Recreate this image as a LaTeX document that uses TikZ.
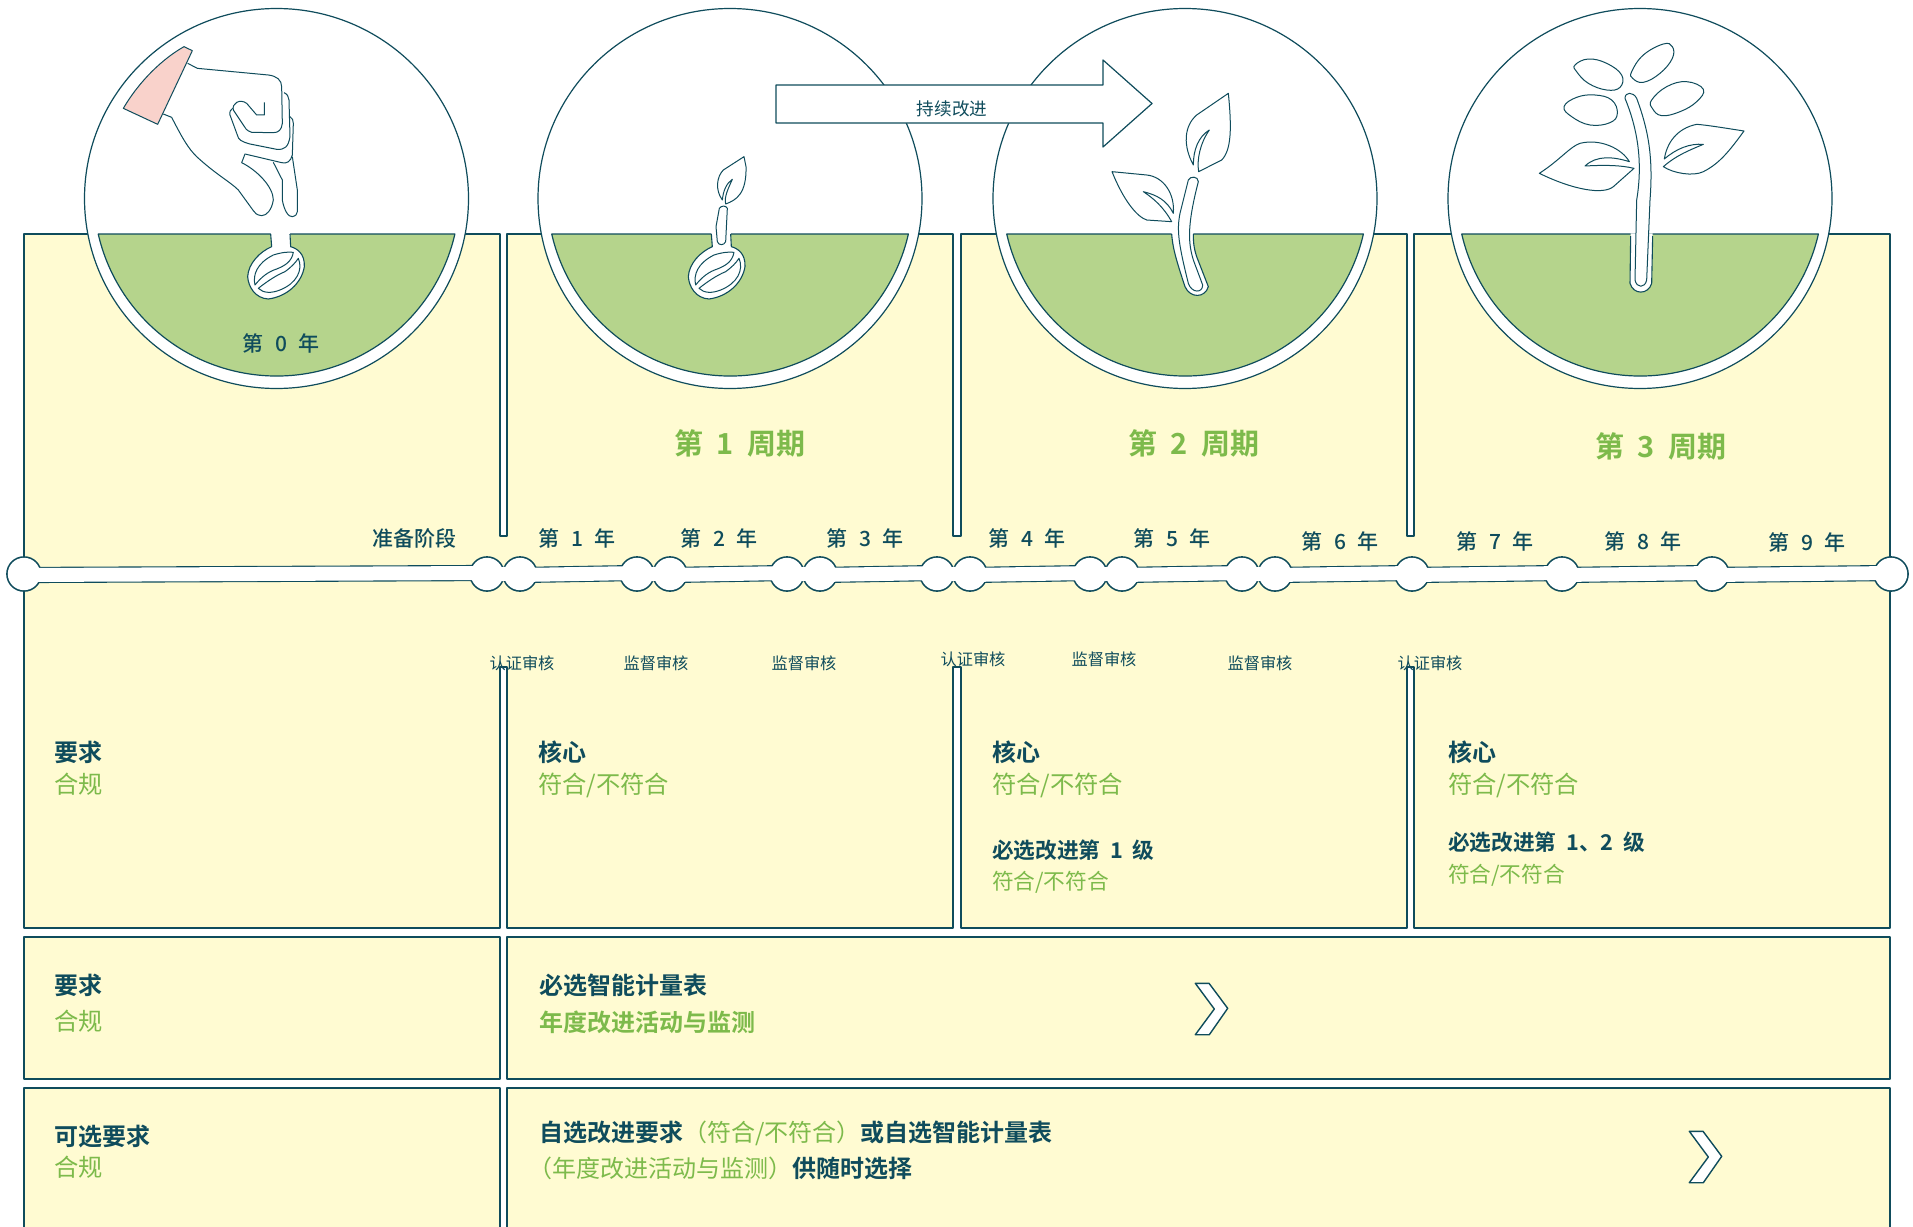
\documentclass[tikz,border=0pt]{standalone}
\usepackage{fontspec}
\setmainfont[BoldFont={Noto Sans CJK SC Bold}]{Noto Sans CJK SC}
\newfontfamily\medcjk{Noto Sans CJK SC Medium}
\definecolor{ink}{HTML}{0F4C5C}
\definecolor{leaf}{HTML}{7DBA4B}
\definecolor{soil}{HTML}{B5D48C}
\definecolor{paper}{HTML}{FFFBD2}
\definecolor{cuff}{HTML}{F9D2CB}
\newcommand{\fs}[1]{\fontsize{#1}{#1}\selectfont}
\newcommand{\yr}[1]{第\hspace{.55em}#1\hspace{.55em}年}
\newcommand{\zyq}[1]{第\hspace{.45em}#1\hspace{.45em}周期}
\tikzset{
  ln/.style={draw=ink,line width=1.2pt,line join=round},
  panel/.style={ln,fill=paper},
  disc/.style={ln,fill=white},
  art/.style={draw=ink,line width=1pt,fill=white,line join=round},
  txt/.style={inner sep=0pt,outer sep=0pt,anchor=base west,text=ink},
  ctr/.style={inner sep=0pt,outer sep=0pt,anchor=base,text=ink},
  hb/.style={txt,font=\fs{24}\bfseries},
  gr/.style={txt,font=\fs{24.3},text=leaf},
  hs/.style={txt,font=\fs{21.7}\bfseries},
  gs/.style={txt,font=\fs{21.7},text=leaf},
  yrs/.style={ctr,font=\medcjk\fs{21}},
  aud/.style={ctr,font=\fs{16.2}},
  cyc/.style={ctr,font=\fs{29}\bfseries,text=leaf},
  zoomed/.style={x=0.33333pt,y=-0.33333pt},
  tlnode/.style={circle,minimum size=33.5pt,inner sep=0pt,draw=ink,line width=2.2pt,fill=white}
}
\newcommand{\ground}[1]{% centre x of the disc
  \path[ln,fill=soil] (#1-178.4,234) -- (#1+178.4,234) arc[start angle=12.95,end angle=167.05,radius=183] -- cycle;
}
\newcommand{\bean}{%
  \fill[white] (632,695) -- (635,740) -- (692,740) -- (690,695) -- cycle;
  \path[fill=white,draw=ink,line width=1.1pt] (632,702) -- (635,740) .. controls (600,755) and (565,790) .. (563,830)
    .. controls (565,860) and (585,895) .. (625,897) .. controls (680,890) and (725,850) .. (733,800)
    .. controls (735,760) and (710,745) .. (692,740) -- (690,702);
  \draw[art] (585,855) .. controls (578,825) and (590,790) .. (640,765) .. controls (665,757) and (685,755) .. (700,757)
    .. controls (695,785) and (675,797) .. (650,807) .. controls (625,815) and (605,830) .. (585,855) -- cycle;
  \draw[art] (715,775) .. controls (730,810) and (710,850) .. (660,870) .. controls (635,880) and (610,880) .. (595,865)
    .. controls (620,845) and (650,825) .. (675,815) .. controls (695,800) and (705,790) .. (715,775) -- cycle;
}
\begin{document}
\begin{tikzpicture}[x=1pt,y=-1pt]
\useasboundingbox (0,0) rectangle (1913,1226);
\fill[white] (0,0) rectangle (1913,1226);
% panels
\path[panel] (24,234) -- (500,234) -- (500,536) -- (507,536) -- (507,234) -- (953,234) -- (953,536) -- (961,536) -- (961,234)
  -- (1407,234) -- (1407,536) -- (1414,536) -- (1414,234) -- (1890,234) -- (1890,928) -- (1414,928) -- (1414,667) -- (1407,667)
  -- (1407,928) -- (961,928) -- (961,667) -- (953,667) -- (953,928) -- (507,928) -- (507,667) -- (500,667) -- (500,928) -- (24,928) -- cycle;
\path[panel] (24,937) rectangle (500,1079);
\path[panel] (507,937) rectangle (1890,1079);
\path[panel] (24,1088) -- (500,1088) -- (500,1232) -- (24,1232) -- cycle;
\path[panel] (507,1088) -- (1890,1088) -- (1890,1232) -- (507,1232) -- cycle;
% chevrons
\draw[art,line width=1.4pt] (1195.3,983.3) -- (1209,983.3) -- (1227.7,1008.3) -- (1209.3,1034.7) -- (1195.3,1034.7) -- (1214.3,1009) -- cycle;
\begin{scope}[shift={(494,148)}]
\draw[art,line width=1.4pt] (1195.3,983.3) -- (1209,983.3) -- (1227.7,1008.3) -- (1209.3,1034.7) -- (1195.3,1034.7) -- (1214.3,1009) -- cycle;
\end{scope}
% discs
\foreach \c in {276.5,730,1185,1640}{
  \draw[disc] (\c,198.5) ellipse[x radius=192,y radius=190];
  \ground{\c}
}
% hand and seed
\begin{scope}[shift={(60,0)},zoomed]
\bean
\draw[art,fill=cuff] (190,325) .. controls (240,240) and (310,175) .. (372,140) -- (397,152) -- (293,373) -- cycle;
\draw[art,fill=none] (383,190) -- (412,205) -- (625,225) .. controls (650,228) and (665,240) .. (665,260) -- (667,370)
  .. controls (665,390) and (655,398) .. (640,398) -- (575,397) .. controls (560,392) and (555,385) .. (550,375) -- (520,330)
  .. controls (515,310) and (540,295) .. (560,310) -- (590,345) -- (613,345) -- (613,307);
\draw[art,fill=none] (672,278) .. controls (682,282) and (686,290) .. (687,300) -- (690,410) .. controls (685,440) and (675,450) .. (650,448)
  -- (570,432) .. controls (545,425) and (535,420) .. (532,405) -- (510,345) .. controls (508,335) and (512,328) .. (518,325);
\draw[art,fill=none] (690,350) .. controls (697,355) and (700,360) .. (700,370) -- (697,465) .. controls (692,485) and (680,492) .. (665,488)
  -- (555,462) -- (545,488) .. controls (590,510) and (640,560) .. (640,600) .. controls (635,630) and (620,647) .. (605,647)
  .. controls (590,645) and (585,640) .. (580,632) -- (535,570) .. controls (510,545) and (470,525) .. (410,470)
  .. controls (385,445) and (370,420) .. (335,352) -- (310,342);
\draw[art,fill=none] (640,487) -- (667,540) -- (667,600) .. controls (672,630) and (685,652) .. (697,650) .. controls (707,648) and (712,642) .. (712,635)
  -- (712,570) -- (697,470);
\end{scope}
% sprout
\begin{scope}[shift={(520,0)},zoomed]
\begin{scope}[shift={(-58,0)}]\bean\end{scope}
\draw[art] (598,625) .. controls (604,616) and (618,616) .. (622,625) -- (617,725) .. controls (612,737) and (596,737) .. (592,725)
  -- (588,680) -- cycle;
\draw[art] (672,470) -- (610,510) .. controls (590,530) and (585,570) .. (607,600) .. controls (610,570) and (620,550) .. (637,538)
  .. controls (625,565) and (612,590) .. (617,612) .. controls (650,600) and (680,580) .. (678,500) -- cycle;
\end{scope}
% seedling
\begin{scope}[shift={(980,0)},zoomed]
\fill[white] (575,695) -- (575,702) .. controls (578,740) and (585,770) .. (615,860) .. controls (630,895) and (675,895) .. (685,860)
  -- (650,770) .. controls (640,740) and (640,720) .. (640,695) -- cycle;
\draw[ln,line width=1.1pt] (575,702) .. controls (578,740) and (585,770) .. (615,860) .. controls (630,895) and (675,895) .. (685,860)
  -- (650,770) .. controls (640,740) and (640,720) .. (640,702);
\draw[art] (625,540) -- (600,640) .. controls (590,690) and (595,730) .. (625,850) .. controls (635,880) and (668,880) .. (668,855)
  -- (640,780) .. controls (625,730) and (620,680) .. (655,545) .. controls (655,528) and (630,528) .. (625,540) -- cycle;
\draw[art] (745,280) -- (650,345) .. controls (610,380) and (610,440) .. (640,495) .. controls (640,450) and (655,410) .. (688,390)
  .. controls (660,430) and (650,480) .. (656,515) -- (725,480) .. controls (755,450) and (755,380) .. cycle;
\draw[art] (396,515) .. controls (430,600) and (470,650) .. (500,660) -- (575,665) .. controls (550,620) and (520,595) .. (490,575)
  .. controls (530,585) and (560,600) .. (580,640) .. controls (585,580) and (550,530) .. (500,525) -- cycle;
\end{scope}
% plant
\begin{scope}[shift={(1440,0)},zoomed]
\fill[white] (572,700) -- (570,850) .. controls (580,885) and (625,885) .. (635,850) -- (638,700) -- cycle;
\draw[ln,line width=1.1pt] (572,708) -- (570,850) .. controls (580,885) and (625,885) .. (635,850) -- (638,708);
\draw[art] (555,295) .. controls (555,275) and (580,275) .. (590,295) .. controls (625,390) and (640,470) .. (630,600) -- (620,840)
  .. controls (615,865) and (590,865) .. (585,840) -- (590,600) .. controls (610,480) and (590,380) .. cycle;
\draw[art] plot[smooth cycle,tension=.7] coordinates {(405,195) (445,177) (500,190) (545,225) (540,262) (500,270) (445,250) (410,215)};
\draw[art] plot[smooth cycle,tension=.7] coordinates {(575,215) (610,165) (670,132) (697,140) (697,175) (660,220) (610,247) (578,235)};
\draw[art] plot[smooth cycle,tension=.7] coordinates {(635,300) (680,260) (740,245) (790,268) (770,305) (720,335) (665,347) (637,325)};
\draw[art] plot[smooth cycle,tension=.7] coordinates {(372,320) (410,292) (465,285) (515,300) (532,340) (510,368) (450,375) (395,350)};
\draw[art] (298,520) .. controls (360,480) and (390,440) .. (420,430) .. controls (480,415) and (545,445) .. (568,485)
  .. controls (520,470) and (470,465) .. (435,498) .. controls (490,495) and (540,495) .. (582,505) -- (520,560)
  .. controls (490,585) and (400,570) .. cycle;
\draw[art] (912,393) .. controls (860,385) and (800,375) .. (770,373) .. controls (710,385) and (680,430) .. (673,477)
  .. controls (710,445) and (750,430) .. (790,433) .. controls (750,450) and (710,465) .. (670,500)
  .. controls (700,520) and (760,530) .. (790,515) .. controls (840,490) and (870,450) .. cycle;
\end{scope}
% improvement arrow
\path[disc] (776,85) -- (1103,85) -- (1103,60) -- (1152,103.5) -- (1103,147) -- (1103,123) -- (776,123) -- cycle;
\node[ctr,font=\fs{17.6}] (improve) at (952,115) {持续改进};
% timeline
\foreach \a/\b in {24/487,520/637,670/787,820/937,970/1090,1122/1242,1275/1412,1412/1562,1562/1712,1712/1891}{
  \path[draw=ink,line width=2.2pt,line join=round] (\a,568) -- (\b,566) -- (\b,580) -- (\a,582) -- cycle;
}
\foreach \i/\x in {1/24,2/487,3/520,4/637,5/670,6/787,7/820,8/937,9/970,10/1090,11/1122,12/1242,13/1275,14/1412,15/1562,16/1712,17/1891}{
  \node[tlnode] (t\i) at (\x,574) {};
}
\foreach \a/\b in {24/487,487/520,520/637,637/670,670/787,787/820,820/937,937/970,970/1090,1090/1122,1122/1242,1242/1275,1275/1412,1412/1562,1562/1712,1712/1891}{
  \fill[white] (\a,568) -- (\b,566) -- (\b,580) -- (\a,582) -- cycle;
}
\foreach \x in {24,487,520,637,670,787,820,937,970,1090,1122,1242,1275,1412,1562,1712,1891}{
  \fill[white] (\x,574) circle[radius=16.2];
}
% year labels
\node[yrs] (y0) at (281,351) {\yr{0}};
\node[yrs] (prep) at (414,546) {准备阶段};
\node[yrs] (y1) at (577,546) {\yr{1}};
\node[yrs] (y2) at (719,546) {\yr{2}};
\node[yrs] (y3) at (865,546) {\yr{3}};
\node[yrs] (y4) at (1027,546) {\yr{4}};
\node[yrs] (y5) at (1172,546) {\yr{5}};
\node[yrs] (y6) at (1340,549) {\yr{6}};
\node[yrs] (y7) at (1495,549) {\yr{7}};
\node[yrs] (y8) at (1643,549) {\yr{8}};
\node[yrs] (y9) at (1807,550) {\yr{9}};
% audits
\node[aud] (a1) at (522,669) {认证审核};
\node[aud] (a2) at (656,669) {监督审核};
\node[aud] (a3) at (804,669) {监督审核};
\node[aud] (a4) at (973,665) {认证审核};
\node[aud] (a5) at (1104,665) {监督审核};
\node[aud] (a6) at (1260,669) {监督审核};
\node[aud] (a7) at (1430,669) {认证审核};
% cycles
\node[cyc] (c1) at (740,454) {\zyq{1}};
\node[cyc] (c2) at (1194,454) {\zyq{2}};
\node[cyc] (c3) at (1661,457) {\zyq{3}};
% first row
\node[hb] (r1a) at (54,761) {要求};
\node[gr] (r1b) at (54,793) {合规};
\node[hb] (r1c) at (538,761) {核心};
\node[gr] (r1d) at (538,793) {符合/不符合};
\node[hb] (r1e) at (992,761) {核心};
\node[gr] (r1f) at (992,793) {符合/不符合};
\node[hs] (r1g) at (992,858) {必选改进第\hspace{.45em}1\hspace{.45em}级};
\node[gs] (r1h) at (992,889) {符合/不符合};
\node[hb] (r1i) at (1448,761) {核心};
\node[gr] (r1j) at (1448,793) {符合/不符合};
\node[hs] (r1k) at (1448,850) {必选改进第\hspace{.45em}1、2\hspace{.45em}级};
\node[gs] (r1l) at (1448,882) {符合/不符合};
% second row
\node[hb] (r2a) at (54,994) {要求};
\node[gr] (r2b) at (54,1030) {合规};
\node[hb] (r2c) at (539,994) {必选智能计量表};
\node[hb,text=leaf] (r2d) at (539,1031) {年度改进活动与监测};
% third row
\node[hb] (r3a) at (54,1145) {可选要求};
\node[gr] (r3b) at (54,1176) {合规};
\node[hb] (r3c) at (539,1141) {自选改进要求\textcolor{leaf}{\mdseries（符合/不符合）}或自选智能计量表};
\node[hb] (r3d) at (539,1177) {\hspace{-11pt}\textcolor{leaf}{\mdseries（年度改进活动与监测）}供随时选择};
\end{tikzpicture}
\end{document}
